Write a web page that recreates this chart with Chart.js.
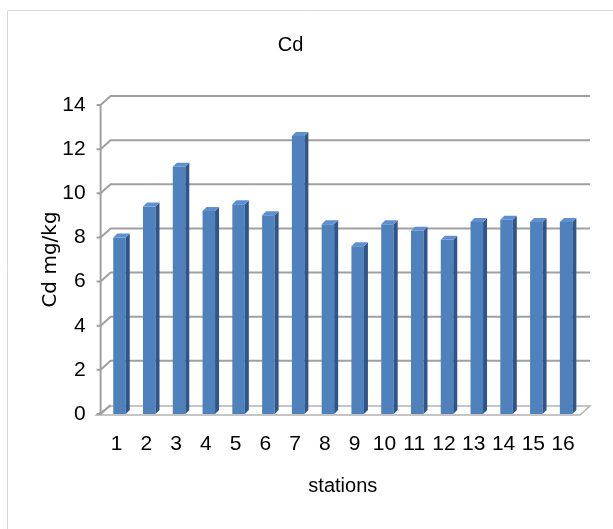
<!DOCTYPE html>
<html>
<head>
<meta charset="utf-8">
<script src="https://cdn.jsdelivr.net/npm/chart.js@4/dist/chart.umd.min.js"></script>
<style>
  html, body { margin: 0; padding: 0; background: #fff; }
  #wrap { width: 613px; height: 529px; }
</style>
</head>
<body>
<div id="wrap"><canvas id="chart" width="613" height="529"></canvas></div>
<script>
// stations and Cd values (mg/kg)
const stations = ['1', '2', '3', '4', '5', '6', '7', '8', '9', '10', '11', '12', '13', '14', '15', '16'];
const cdValues = [8.0, 9.4, 11.2, 9.2, 9.5, 9.0, 12.6, 8.6, 7.6, 8.6, 8.3, 7.9, 8.7, 8.8, 8.7, 8.7];
const yTicks = [0, 2, 4, 6, 8, 10, 12, 14];

const sans = "'Liberation Sans', Arial, sans-serif";

// excel-like 3d look: back wall gridlines, floor, side/top faces of the bars
const depth = { dx: 10, dy: 9 };
const barDepth = { dx: 4, dy: 4 };

const frame = {
  id: 'frame',
  beforeDraw(chart) {
    const ctx = chart.ctx;
    ctx.save();
    ctx.strokeStyle = '#d9d9d9';
    ctx.lineWidth = 1;
    ctx.beginPath();
    ctx.moveTo(7.5, 529);
    ctx.lineTo(7.5, 10.5);
    ctx.lineTo(613, 10.5);
    ctx.stroke();
    ctx.restore();
  },
  beforeDatasetsDraw(chart) {
    const ctx = chart.ctx;
    const area = chart.chartArea;
    const y = chart.scales.y;
    const axisX = area.left - 4;
    const right = area.right - 1;
    ctx.save();
    // floor
    const y0 = y.getPixelForValue(0) + 1;
    ctx.fillStyle = '#ffffff';
    ctx.strokeStyle = '#b3b3b3';
    ctx.lineWidth = 1.5;
    ctx.beginPath();
    ctx.moveTo(axisX - 4, y0);
    ctx.lineTo(axisX + depth.dx, y0 - depth.dy);
    ctx.lineTo(right + depth.dx, y0 - depth.dy);
    ctx.lineTo(right, y0);
    ctx.closePath();
    ctx.fill();
    ctx.stroke();
    // back wall gridlines
    ctx.strokeStyle = '#a0a0a0';
    ctx.lineWidth = 2;
    yTicks.forEach(v => {
      const py = y.getPixelForValue(v);
      ctx.beginPath();
      ctx.moveTo(axisX - 4, py);
      ctx.lineTo(axisX, py);
      ctx.lineTo(axisX + depth.dx, py - depth.dy);
      if (v > 0) ctx.lineTo(right + depth.dx, py - depth.dy);
      ctx.stroke();
    });
    // front axis line
    ctx.beginPath();
    ctx.moveTo(axisX, y.getPixelForValue(14));
    ctx.lineTo(axisX, y0);
    ctx.stroke();
    ctx.restore();
  },
  afterDatasetsDraw(chart) {
    const ctx = chart.ctx;
    const meta = chart.getDatasetMeta(0);
    ctx.save();
    meta.data.forEach(bar => {
      const p = bar.getProps(['x', 'y', 'base', 'width'], true);
      const l = p.x - p.width / 2;
      const r = p.x + p.width / 2;
      // side face
      ctx.fillStyle = '#30558a';
      ctx.beginPath();
      ctx.moveTo(r, p.y);
      ctx.lineTo(r + barDepth.dx, p.y - barDepth.dy);
      ctx.lineTo(r + barDepth.dx, p.base - barDepth.dy);
      ctx.lineTo(r, p.base);
      ctx.closePath();
      ctx.fill();
      // top face
      ctx.fillStyle = '#5e8fd0';
      ctx.beginPath();
      ctx.moveTo(l, p.y);
      ctx.lineTo(l + barDepth.dx, p.y - barDepth.dy);
      ctx.lineTo(r + barDepth.dx, p.y - barDepth.dy);
      ctx.lineTo(r, p.y);
      ctx.closePath();
      ctx.fill();
    });
    ctx.restore();
  }
};

new Chart(document.getElementById('chart'), {
  type: 'bar',
  data: {
    labels: stations,
    datasets: [{
      label: 'Cd',
      data: cdValues,
      backgroundColor: '#4f81bd',
      borderWidth: 0,
      barPercentage: 0.42,
      categoryPercentage: 1
    }]
  },
  options: {
    responsive: false,
    animation: false,
    layout: { padding: { left: 0, right: 32, top: 0, bottom: 0 } },
    plugins: {
      legend: { display: false },
      tooltip: { enabled: false },
      title: {
        display: true,
        text: 'Cd',
        color: '#000',
        font: { family: sans, size: 20, weight: 'normal' },
        padding: { top: 33, bottom: 48 }
      }
    },
    scales: {
      x: {
        grid: { display: false, drawTicks: false },
        border: { display: false },
        ticks: {
          color: '#000',
          font: { family: sans, size: 21 },
          padding: 18,
          labelOffset: -3,
          maxRotation: 0,
          autoSkip: false
        },
        title: {
          display: true,
          text: 'stations',
          color: '#000',
          font: { family: sans, size: 20 },
          padding: { top: 0, bottom: 31 }
        },
        afterFit(s) { s.height = 115; }
      },
      y: {
        min: 0,
        max: 14,
        grid: { display: false, drawTicks: false },
        border: { display: false },
        ticks: {
          stepSize: 2,
          color: '#000',
          font: { family: sans, size: 21 },
          padding: 19
        },
        title: {
          display: true,
          text: 'Cd mg/kg',
          color: '#000',
          font: { family: "'DejaVu Sans', sans-serif", size: 20 },
          padding: { top: 39, bottom: 0 }
        },
        afterFit(s) { s.width = 104.6; }
      }
    }
  },
  plugins: [frame]
});
</script>
</body>
</html>
